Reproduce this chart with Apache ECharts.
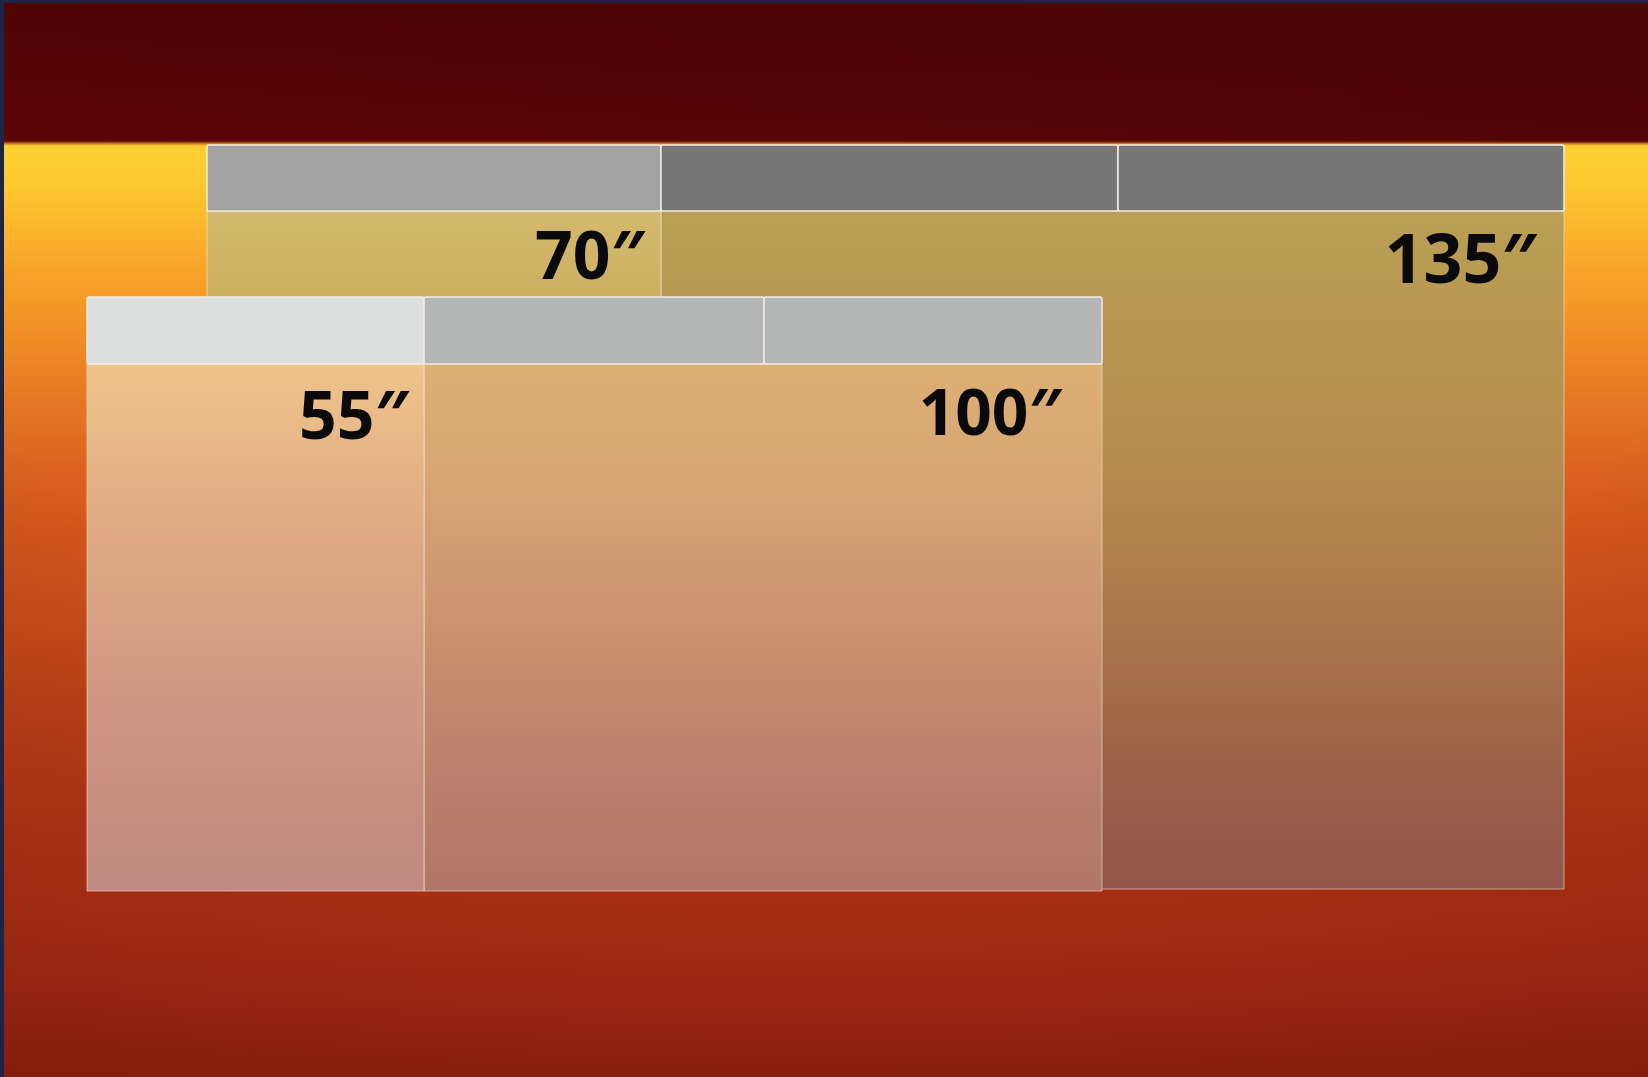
<!DOCTYPE html>
<html>
<head>
<meta charset="utf-8">
<script src="https://cdn.jsdelivr.net/npm/echarts/dist/echarts.min.js"></script>
<style>
html, body { margin: 0; padding: 0; background: #1e2445; overflow: hidden; }
#chart {
  position: absolute; left: 0; top: 0; width: 1648px; height: 1077px;
  background:
    linear-gradient(to right, rgba(0,0,0,0) 0%, rgba(20,0,0,0.12) 100%) 0 0 / 100% 143px no-repeat,
    radial-gradient(ellipse 90% 110% at 50% 0%, rgba(40,0,0,0) 65%, rgba(40,0,0,0.16) 110%),
    linear-gradient(to bottom, #500404 0px, #5c0606 141px, #e08a2a 144px, #ffd233 146px, #ffc830 185px,
      #f8a42a 270px, #f08e26 335px, #e67824 400px, #dc6420 465px, #d2561c 530px, #c64a1a 630px,
      #b83c16 730px, #b03416 830px, #aa2e14 930px, #9c2612 1030px, #94220f 1077px);
}
#frame {
  position: absolute; left: 0; top: 0; width: 1648px; height: 1077px; box-sizing: border-box;
  border-top: 3px solid #1e2445; border-left: 4px solid #1e2445; pointer-events: none;
}
</style>
</head>
<body>
<div id="chart"></div>
<div id="frame"></div>
<script>
// ---------------- data (in layout units) ----------------
const screenLabels = ['135″', '70″', '100″', '55″'];
const screenRow    = [0, 0, 1, 1];
const screenLeft   = [661, 207, 424, 87];
const screenRight  = [1564, 661, 1102, 424];
const screenTop    = [211, 211, 364, 364];
const screenBottom = [889, 889, 891, 891];

const headerRowTop    = [145, 297];
const headerRowBottom = [211, 364];
const headerEdges     = [[207, 661, 1118, 1564], [87, 424, 764, 1102]];

// ---------------- styles ----------------
const labelInset  = [27, 16, 40, 15];
const labelOffset = [53, 49, 53, 56];
const labelSize   = [68, 66, 64, 66];
const bodyStops = [
  [[0, '#BA9F54'], [0.35, '#B68E4E'], [0.57, '#AE7A4C'], [0.79, '#9E6448'], [1, '#92554A']],
  [[0, '#D4BA6E'], [0.13, '#CDAE62'], [1, '#B08050']],
  [[0, '#DDB074'], [0.25, '#D6A474'], [0.55, '#C88E6E'], [0.8, '#BA7E6C'], [1, '#B17668']],
  [[0, '#EEC48C'], [0.25, '#E4AE84'], [0.55, '#D49C82'], [0.8, '#C88F80'], [1, '#C08A80']]
];
const headerColors = [['#A3A3A3', '#777777', '#777777'], ['#DEE0DF', '#B5B7B6', '#B5B7B6']];

// ---------------- build series data ----------------
function bodyData(row) {
  const out = [];
  screenLabels.forEach((l, i) => {
    if (screenRow[i] === row) out.push([screenLeft[i], screenRight[i], screenTop[i], screenBottom[i], i]);
  });
  return out;
}
function headerData(row) {
  const e = headerEdges[row];
  const out = [];
  for (let s = 0; s < e.length - 1; s++) out.push([e[s], e[s + 1], headerRowTop[row], headerRowBottom[row], row, s]);
  return out;
}

function renderBody(params, api) {
  const i = api.value(4);
  const p0 = api.coord([api.value(0), api.value(2)]);
  const p1 = api.coord([api.value(1), api.value(3)]);
  return {
    type: 'group',
    children: [
      {
        type: 'rect',
        shape: { x: p0[0], y: p0[1], width: p1[0] - p0[0], height: p1[1] - p0[1] },
        style: {
          fill: new echarts.graphic.LinearGradient(0, 0, 0, 1,
            bodyStops[i].map(s => ({ offset: s[0], color: s[1] }))),
          stroke: 'rgba(255,236,225,0.55)', lineWidth: 1
        }
      },
      {
        type: 'text',
        style: {
          text: screenLabels[i],
          x: p1[0] - labelInset[i],
          y: p0[1] + labelOffset[i],
          align: 'right', verticalAlign: 'middle',
          fontFamily: '"Noto Sans", "Open Sans", sans-serif',
          fontWeight: 'bold', fontSize: labelSize[i],
          fill: '#0a0a0a'
        }
      }
    ]
  };
}

function renderHeader(params, api) {
  const row = api.value(4), seg = api.value(5);
  const p0 = api.coord([api.value(0), api.value(2)]);
  const p1 = api.coord([api.value(1), api.value(3)]);
  return {
    type: 'rect',
    shape: { x: p0[0], y: p0[1], width: p1[0] - p0[0], height: p1[1] - p0[1], r: 2 },
    style: { fill: headerColors[row][seg], stroke: '#F3ECE4', lineWidth: 1.5 }
  };
}

const chart = echarts.init(document.getElementById('chart'), null, { renderer: 'canvas' });
chart.setOption({
  backgroundColor: 'transparent',
  animation: false,
  grid: { left: 0, right: 0, top: 0, bottom: 0 },
  xAxis: { type: 'value', min: 0, max: 1648, show: false },
  yAxis: { type: 'value', min: 0, max: 1077, inverse: true, show: false },
  series: [
    { type: 'custom', renderItem: renderBody, data: bodyData(0), encode: { x: [0, 1], y: [2, 3] }, clip: false, silent: true },
    { type: 'custom', renderItem: renderHeader, data: headerData(0), encode: { x: [0, 1], y: [2, 3] }, clip: false, silent: true },
    { type: 'custom', renderItem: renderBody, data: bodyData(1), encode: { x: [0, 1], y: [2, 3] }, clip: false, silent: true },
    { type: 'custom', renderItem: renderHeader, data: headerData(1), encode: { x: [0, 1], y: [2, 3] }, clip: false, silent: true }
  ]
});
</script>
</body>
</html>
